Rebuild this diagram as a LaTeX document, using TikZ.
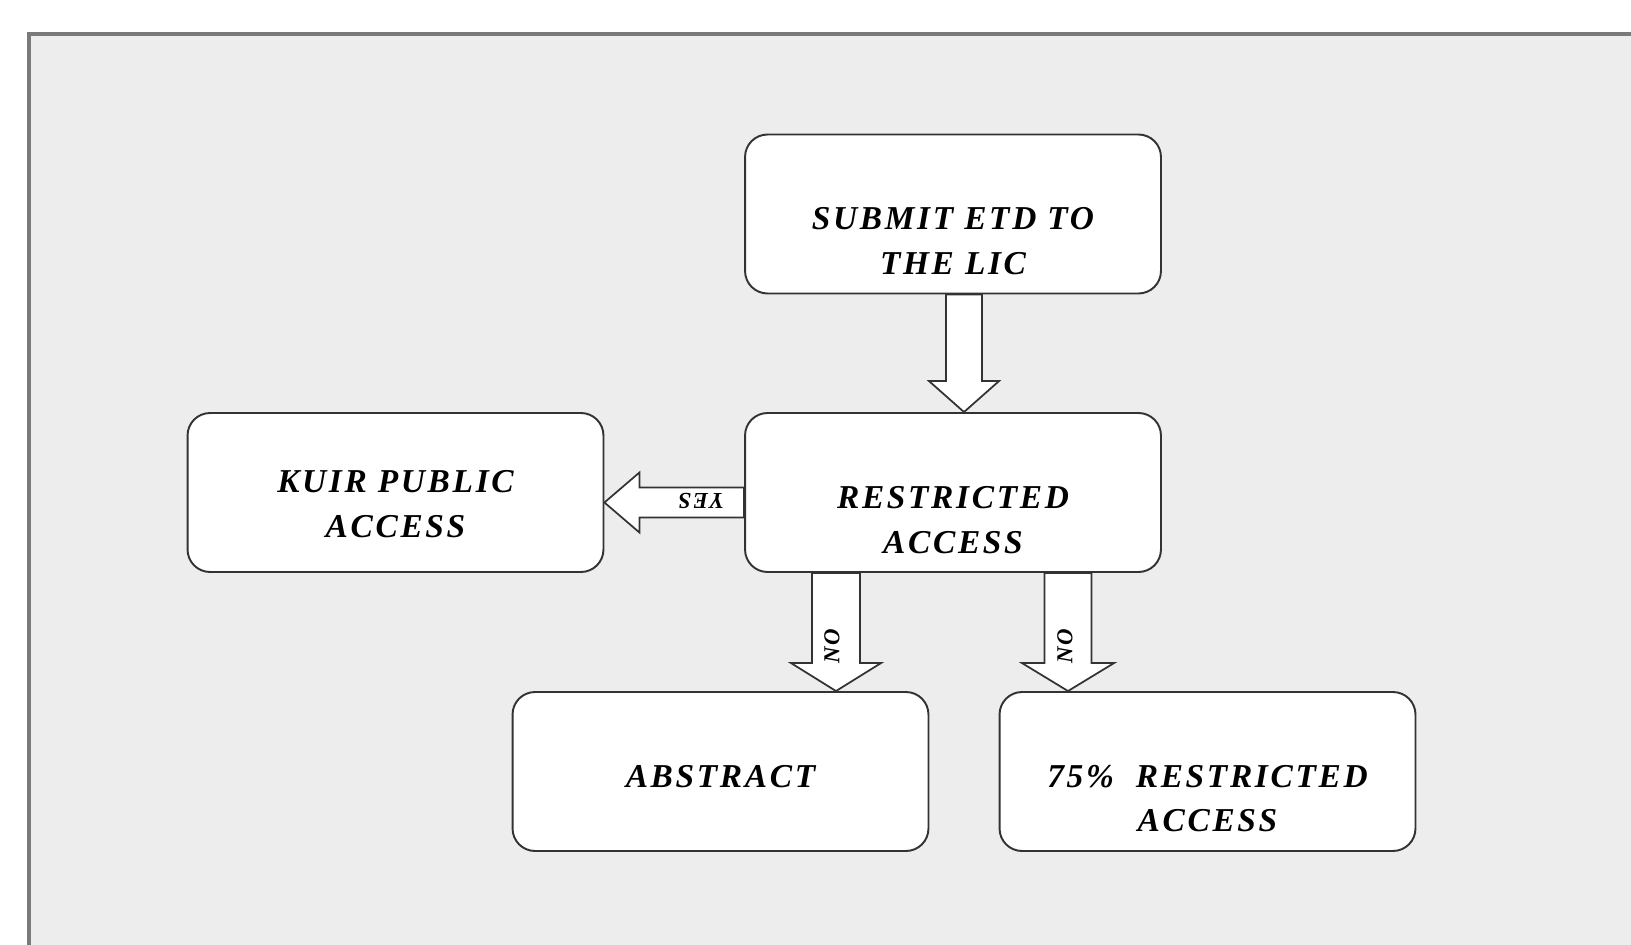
\documentclass[tikz,border=0pt]{standalone}
\usepackage{fontspec}
\usetikzlibrary{calc,backgrounds}
\newfontfamily\flowfont{Liberation Serif}[LetterSpace=8]
\definecolor{panelGray}{HTML}{EDEDED}
\definecolor{frameGray}{HTML}{7A7A7A}
\tikzstyle{roundBox} = [shape=rectangle, draw=black!80, fill=white, line width=1.1pt,
	rounded corners=0.45cm, minimum width=8.32cm, minimum height=3.18cm]
\tikzstyle{boxText} = [align=center, inner sep=0pt,
	font=\flowfont\bfseries\itshape\fontsize{19}{25.5}\selectfont]
\tikzstyle{blockArrow} = [draw=black!80, fill=white, line width=1pt]
\tikzstyle{arrowLabel} = [inner sep=0pt,
	font=\flowfont\bfseries\itshape\fontsize{13}{15}\selectfont]

\begin{document}
\begin{tikzpicture}[x=0.02cm, y=-0.02cm]
  \useasboundingbox (0,0) rectangle (1631,945);
  \begin{scope}[on background layer]
  	\fill[panelGray] (29,34) rectangle (1631,945);
  	\draw[frameGray, line width=0.08cm] (29,945) -- (29,34) -- (1631,34);
  \end{scope}

  % boxes
  \node[roundBox] (submit) at (953,214) {};
  \node[roundBox] (restr) at (953,492.5) {};
  \node[roundBox] (kuir) at (395.5,492.5) {};
  \node[roundBox] (abstract) at (720.5,771.5) {};
  \node[roundBox] (restr75) at (1207.5,771.5) {};

  \node[boxText] (submitTxt) at ($(submit)+(0,27)$) {SUBMIT ETD TO\\THE LIC};
  \node[boxText] (restrTxt) at ($(restr)+(0,28)$) {RESTRICTED\\ACCESS};
  \node[boxText] (kuirTxt) at ($(kuir)+(0,12)$) {KUIR PUBLIC\\ACCESS};
  \node[boxText] (abstractTxt) at ($(abstract)+(0,5.5)$) {ABSTRACT};
  \node[boxText] (restr75Txt) at ($(restr75)+(0,27)$) {75\%\ \ RESTRICTED\\ACCESS};

  % block arrows
  \coordinate (downS) at ($(submit.south)+(11,0)$);
  \coordinate (downE) at (downS |- restr.north);
  \coordinate (yesS) at ($(restr.west)+(0,10)$);
  \coordinate (yesE) at (yesS -| kuir.east);
  \coordinate (noAS) at ($(restr.south)+(-117,0)$);
  \coordinate (noAE) at (noAS |- abstract.north);
  \coordinate (noBS) at ($(restr.south)+(115,0)$);
  \coordinate (noBE) at (noBS |- restr75.north);

  \begin{scope}[on background layer]
  	\draw[blockArrow] ($(downS)+(-18,0)$) -- ($(downE)+(-18,-31)$) -- ($(downE)+(-35,-31)$)
  		-- (downE) -- ($(downE)+(35,-31)$) -- ($(downE)+(18,-31)$) -- ($(downS)+(18,0)$) -- cycle;
  	\draw[blockArrow] ($(yesS)+(0,-15)$) -- ($(yesE)+(35,-15)$) -- ($(yesE)+(35,-30)$)
  		-- (yesE) -- ($(yesE)+(35,30)$) -- ($(yesE)+(35,15)$) -- ($(yesS)+(0,15)$) -- cycle;
  	\draw[blockArrow] ($(noAS)+(-24,0)$) -- ($(noAE)+(-24,-28)$) -- ($(noAE)+(-45,-28)$)
  		-- (noAE) -- ($(noAE)+(45,-28)$) -- ($(noAE)+(24,-28)$) -- ($(noAS)+(24,0)$) -- cycle;
  	\draw[blockArrow] ($(noBS)+(-23.5,0)$) -- ($(noBE)+(-23.5,-28)$) -- ($(noBE)+(-46,-28)$)
  		-- (noBE) -- ($(noBE)+(46,-28)$) -- ($(noBE)+(23.5,-28)$) -- ($(noBS)+(23.5,0)$) -- cycle;
  \end{scope}

  \node[arrowLabel, rotate=180] (yesLbl) at ($(yesS)+(-43,-2)$) {YES};
  \node[arrowLabel, rotate=90] (noALbl) at ($(noAS)+(-4,73)$) {NO};
  \node[arrowLabel, rotate=90] (noBLbl) at ($(noBS)+(-3,73)$) {NO};
\end{tikzpicture}
\end{document}
